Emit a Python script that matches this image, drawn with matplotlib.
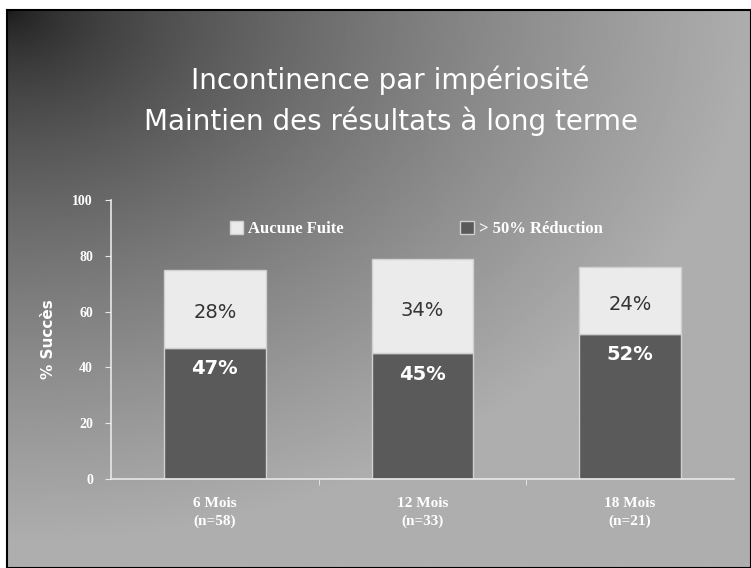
import numpy as np
import matplotlib.pyplot as plt

# données
periodes = ["6 Mois\n(n=58)", "12 Mois\n(n=33)", "18 Mois\n(n=21)"]
reduction_50 = [47, 45, 52]     # > 50% Réduction (bas, foncé)
aucune_fuite = [28, 34, 24]     # Aucune Fuite (haut, clair)
yticks = [0, 20, 40, 60, 80, 100]

W, H = 751, 568
fig = plt.figure(figsize=(W / 100, H / 100), dpi=100)
fig.patch.set_facecolor("white")

# fond en dégradé (diapositive)
bg = fig.add_axes([7 / W, 0, (W - 7) / W, (H - 10) / H], zorder=-5)
u = np.linspace(0, 1, 400)[None, :]
w = np.linspace(0, 1, 300)[:, None]
d = np.sqrt(u ** 2 + (1.05 * w) ** 2)
grad = 0.1 + 0.58 * np.clip(d, 0, 1) ** 0.65
bg.imshow(grad, cmap="gray", vmin=0, vmax=1, aspect="auto",
          extent=[0, 1, 0, 1], origin="upper", interpolation="bilinear")
bg.set_xticks([])
bg.set_yticks([])
for s in bg.spines.values():
    s.set_color("black")
    s.set_linewidth(1.5)

fig.text(0.52, 0.858, "Incontinence par impériosité", ha="center", va="center",
         color="white", fontsize=20, family="DejaVu Sans")
fig.text(0.52, 0.787, "Maintien des résultats à long terme", ha="center", va="center",
         color="white", fontsize=20, family="DejaVu Sans")

ax = fig.add_axes([111 / W, 1 - 479 / H, 623 / W, 279 / H])
ax.set_facecolor("none")

x = np.arange(len(periodes))
dark = ax.bar(x, reduction_50, width=0.49, color="#5a5a5a", edgecolor="#d0d0d0",
              linewidth=1, label="> 50% Réduction")
light = ax.bar(x, aucune_fuite, width=0.49, bottom=reduction_50, color="#ebebeb",
               edgecolor="#d0d0d0", linewidth=1, label="Aucune Fuite")

for xi, b, t in zip(x, reduction_50, aucune_fuite):
    ax.text(xi, b + t / 2 - 1.5, f"{t}%", ha="center", va="center",
            color="#333333", fontsize=14, family="DejaVu Sans")
    ax.annotate(f"{b}%", (xi, b), xytext=(0, -8), textcoords="offset points",
                ha="center", va="top", color="white", fontsize=14,
                fontweight="bold", family="DejaVu Sans")

ax.set_xlim(-0.5, 2.5)
ax.set_ylim(0, 100)
ax.set_yticks(yticks)
ax.set_xticks(x)
ax.set_xticklabels(periodes, color="white", fontsize=11, fontweight="bold",
                   family="Liberation Serif", linespacing=1.45)
ax.set_yticklabels([str(v) for v in yticks], color="white", fontsize=10,
                   fontweight="bold", family="Liberation Serif")
ax.tick_params(axis="x", length=0, pad=13)
ax.tick_params(axis="y", colors="#e8e8e8", labelcolor="white", length=4, pad=9)
ax.set_xticks([0.5, 1.5], minor=True)
ax.tick_params(axis="x", which="minor", length=4, color="#e8e8e8", direction="out")
ax.set_ylabel("% Succès", color="white", fontsize=11, fontweight="bold",
              family="DejaVu Sans", labelpad=12)

for side in ["top", "right"]:
    ax.spines[side].set_visible(False)
for side in ["left", "bottom"]:
    ax.spines[side].set_color("#e8e8e8")
    ax.spines[side].set_linewidth(1.2)

leg = ax.legend(handles=[light, dark], labels=["Aucune Fuite", "> 50% Réduction"],
                loc="center", bbox_to_anchor=(0.49, 0.895), ncol=2, frameon=False,
                handlelength=0.8, handleheight=0.8, handletextpad=0.3,
                columnspacing=7, prop={"family": "Liberation Serif",
                                       "weight": "bold", "size": 12})
for t in leg.get_texts():
    t.set_color("white")

fig.savefig("out.png", dpi=100)
